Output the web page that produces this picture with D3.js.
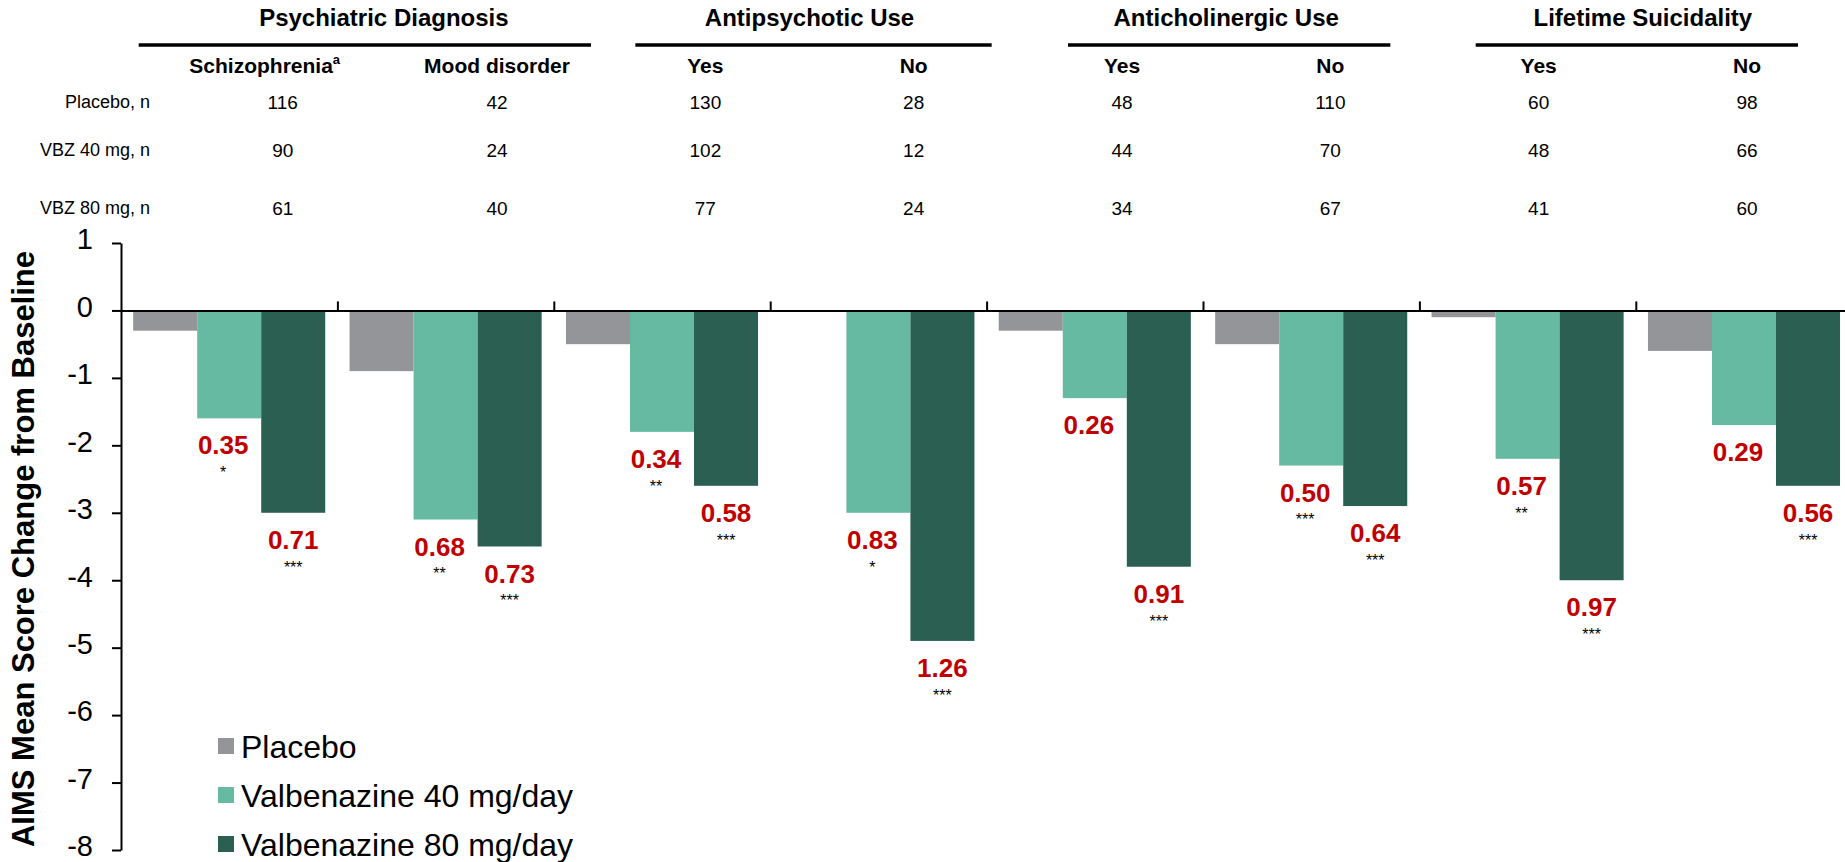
<!DOCTYPE html>
<html><head><meta charset="utf-8">
<script src="https://cdn.jsdelivr.net/npm/d3@7"></script>
<style>
body{margin:0;background:#fff;overflow:hidden}
svg{display:block}
text{font-family:Arial,"Liberation Sans",Helvetica,sans-serif;fill:#000}
</style>
</head><body>
<svg id="chart" width="1845" height="862"></svg>
<script>
// ---------- data ----------
const categories = ["Schizophrenia","Mood disorder","Antipsychotic Yes","Antipsychotic No","Anticholinergic Yes","Anticholinergic No","Suicidality Yes","Suicidality No"];
const seriesNames = ["Placebo","Valbenazine 40 mg/day","Valbenazine 80 mg/day"];
const placebo = [-0.3,-0.9,-0.5,0,-0.3,-0.5,-0.1,-0.6];
const vbz40   = [-1.6,-3.1,-1.8,-3.0,-1.3,-2.3,-2.2,-1.7];
const vbz80   = [-3.0,-3.5,-2.6,-4.9,-3.8,-2.9,-4.0,-2.6];
const effect40 = ["0.35","0.68","0.34","0.83","0.26","0.50","0.57","0.29"];
const effect80 = ["0.71","0.73","0.58","1.26","0.91","0.64","0.97","0.56"];
const sig40 = ["*","**","**","*","","***","**",""];
const sig80 = ["***","***","***","***","***","***","***","***"];
const groupTitles = ["Psychiatric Diagnosis","Antipsychotic Use","Anticholinergic Use","Lifetime Suicidality"];
const columnHeaders = ["Schizophrenia","Mood disorder","Yes","No","Yes","No","Yes","No"];
const rowLabels = ["Placebo, n","VBZ 40 mg, n","VBZ 80 mg, n"];
const nPlacebo = [116,42,130,28,48,110,60,98];
const nVbz40   = [90,24,102,12,44,70,48,66];
const nVbz80   = [61,40,77,24,34,67,41,60];
const yTicks = [1,0,-1,-2,-3,-4,-5,-6,-7,-8];

// ---------- styles ----------
const colors = ["#939598","#66BAA2","#2B5F52"];
const red = "#C00000";

const svg = d3.select("#chart");

// ---------- scales ----------
const plotLeft = 121, step = 216.4;
const x = d3.scaleBand().domain(categories).range([plotLeft, plotLeft + step*categories.length]).padding(0);
const xs = d3.scaleBand().domain(seriesNames).range([0, x.bandwidth()]).paddingInner(0).paddingOuter(0.19);
const y = d3.scaleLinear().domain([-8, 1]).range([850, 243]);

const seriesVals = [placebo, vbz40, vbz80];
const barData = [];
categories.forEach((c, i) => seriesNames.forEach((s, j) => barData.push({c, s, j, v: seriesVals[j][i]})));

// ---------- bars ----------
svg.append("g").selectAll("rect").data(barData).join("rect")
  .attr("x", d => x(d.c) + xs(d.s))
  .attr("width", xs.bandwidth())
  .attr("y", d => y(Math.max(0, d.v)))
  .attr("height", d => Math.abs(y(d.v) - y(0)))
  .attr("fill", d => colors[d.j]);

// ---------- axes ----------
const yAxis = svg.append("g").attr("transform", `translate(${plotLeft},0)`)
  .call(d3.axisLeft(y).tickValues(yTicks).tickFormat(d => String(d)).tickSize(9).tickSizeOuter(0).tickPadding(19));
yAxis.select(".domain").attr("stroke", "#000").attr("stroke-width", 2);
yAxis.selectAll(".tick line").attr("stroke", "#000").attr("stroke-width", 2);
yAxis.selectAll(".tick text").attr("font-size", 29).attr("dy", "0.2em")
  .attr("font-family", "Arial,'Liberation Sans',sans-serif").attr("fill", "#000");

const xIdx = d3.scaleLinear().domain([0, categories.length]).range(x.range());
const xAxis = svg.append("g").attr("transform", `translate(0,${y(0)})`)
  .call(d3.axisTop(xIdx).tickValues(d3.range(1, categories.length + 1)).tickFormat("").tickSize(9).tickSizeOuter(0));
xAxis.select(".domain").attr("stroke", "#000").attr("stroke-width", 2);
xAxis.selectAll(".tick line").attr("stroke", "#000").attr("stroke-width", 2);

// y title
svg.append("text")
  .attr("transform", `translate(34,549) rotate(-90)`)
  .attr("text-anchor", "middle").attr("font-weight", "bold").attr("font-size", 31)
  .text("AIMS Mean Score Change from Baseline");

// ---------- effect-size labels ----------
const labelGap = 27, starGap = 24;
const lab = [];
categories.forEach((c, i) => {
  lab.push({c, s: seriesNames[1], v: vbz40[i], e: effect40[i], st: sig40[i], dx: -6});
  lab.push({c, s: seriesNames[2], v: vbz80[i], e: effect80[i], st: sig80[i], dx: 0});
});
const lg = svg.append("g");
lg.selectAll("text.eff").data(lab).join("text").attr("class", "eff")
  .attr("x", d => x(d.c) + xs(d.s) + xs.bandwidth() / 2 + d.dx)
  .attr("y", d => y(d.v) + labelGap)
  .attr("dy", "0.35em").attr("text-anchor", "middle")
  .attr("font-weight", "bold").attr("font-size", 26).style("fill", red)
  .text(d => d.e);
lg.selectAll("text.sig").data(lab.filter(d => d.st)).join("text").attr("class", "sig")
  .attr("x", d => x(d.c) + xs(d.s) + xs.bandwidth() / 2 + d.dx)
  .attr("y", d => y(d.v) + labelGap + starGap)
  .attr("dy", "0.55em").attr("text-anchor", "middle")
  .attr("font-size", 16)
  .text(d => d.st);

// ---------- legend ----------
const leg = svg.append("g").attr("transform", "translate(218,746)");
const li = leg.selectAll("g").data(seriesNames).join("g").attr("transform", (d, i) => `translate(0,${i * 49})`);
li.append("rect").attr("x", 0).attr("y", -8).attr("width", 16).attr("height", 16).attr("fill", (d, i) => colors[i]);
li.append("text").attr("x", 23).attr("dy", "0.36em").attr("font-size", 32).text(d => d);

// ---------- n table ----------
const col = d3.scalePoint().domain(d3.range(columnHeaders.length)).range([288.7, 1747]);
const colNudge = i => (i === 0 ? -6 : 0);
const tbl = svg.append("g");
// group titles
tbl.selectAll("text.gt").data(groupTitles).join("text").attr("class", "gt")
  .attr("x", (d, i) => (col(2 * i) + colNudge(2 * i) + col(2 * i + 1)) / 2 - (i === 0 ? 6 : 0))
  .attr("y", 18).attr("dy", "0.35em").attr("text-anchor", "middle")
  .attr("font-weight", "bold").attr("font-size", 24).text(d => d);
// rules under titles
const rulePad = [[150, 94], [70, 78], [54, 60], [63, 51]];
tbl.selectAll("line.rule").data(groupTitles).join("line").attr("class", "rule")
  .attr("x1", (d, i) => col(2 * i) - rulePad[i][0])
  .attr("x2", (d, i) => col(2 * i + 1) + rulePad[i][1])
  .attr("y1", 45).attr("y2", 45).attr("stroke", "#000").attr("stroke-width", 3.5);
// column headers
const ch = tbl.selectAll("text.ch").data(columnHeaders).join("text").attr("class", "ch")
  .attr("x", (d, i) => col(i) + (i === 0 ? -24 : 0))
  .attr("y", 66).attr("dy", "0.35em").attr("text-anchor", "middle")
  .attr("font-weight", "bold").attr("font-size", 21);
ch.append("tspan").text(d => d);
ch.filter((d, i) => i === 0).append("tspan").attr("font-size", 13).attr("dy", "-0.75em").text("a");
// rows
const rowVals = [nPlacebo, nVbz40, nVbz80];
const rowY = [102, 150, 208];
rowLabels.forEach((r, k) => {
  tbl.append("text").attr("x", 150).attr("y", rowY[k]).attr("dy", "0.35em")
    .attr("text-anchor", "end").attr("font-size", 18).text(r);
  tbl.selectAll(`text.r${k}`).data(rowVals[k]).join("text").attr("class", `r${k}`)
    .attr("x", (d, i) => col(i) + colNudge(i))
    .attr("y", rowY[k]).attr("dy", "0.35em").attr("text-anchor", "middle")
    .attr("font-size", 19).text(d => d);
});
</script>
</body></html>
